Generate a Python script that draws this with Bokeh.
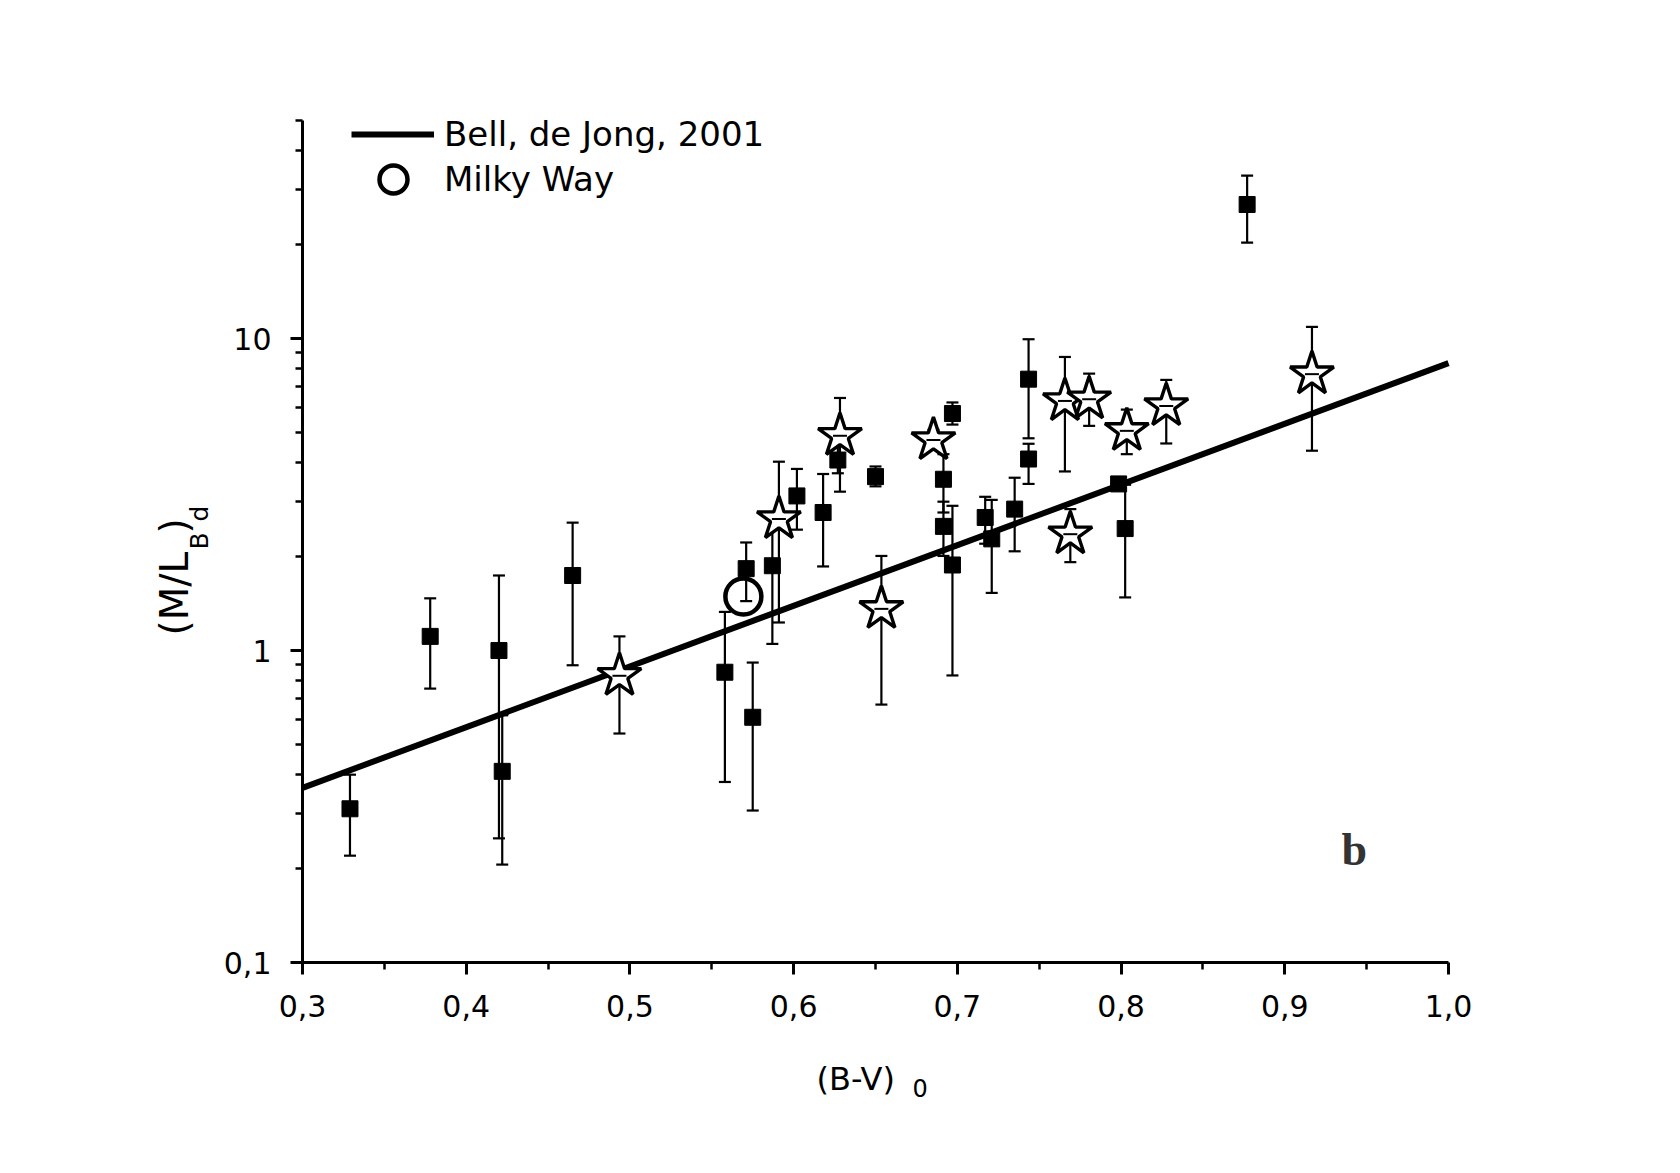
import math
from bokeh.plotting import figure
from bokeh.models import (ColumnDataSource, Whisker, TeeHead, FixedTicker, Label, Grid,
                          Legend, LegendItem, CustomJSTickFormatter, LinearAxis, LogAxis)
from bokeh.embed import file_html
from bokeh.resources import INLINE

# ---------------- data ----------------
x_ticks = [0.3, 0.4, 0.5, 0.6, 0.7, 0.8, 0.9, 1.0]
x_tick_labels = ["0,3", "0,4", "0,5", "0,6", "0,7", "0,8", "0,9", "1,0"]
x_minor = [0.35, 0.45, 0.55, 0.65, 0.75, 0.85, 0.95]
y_ticks = [0.1, 1, 10]
y_tick_labels = ["0,1", "1", "10"]
y_minor = [0.2, 0.3, 0.4, 0.5, 0.6, 0.7, 0.8, 0.9,
           2, 3, 4, 5, 6, 7, 8, 9, 20, 30, 40, 50]

# filled squares
sq_x = [0.329, 0.378, 0.420, 0.422, 0.465, 0.558, 0.571, 0.575, 0.587, 0.602,
        0.618, 0.627, 0.650, 0.6915, 0.6915, 0.697, 0.697, 0.717, 0.721, 0.735,
        0.7435, 0.7435, 0.7985, 0.8025, 0.877]
sq_y = [0.311, 1.11, 1.00, 0.41, 1.74, 0.852, 1.83, 0.611, 1.87, 3.13,
        2.77, 4.08, 3.61, 3.54, 2.50, 5.75, 1.88, 2.67, 2.28, 2.84,
        7.41, 4.11, 3.42, 2.46, 26.9]
sq_lo = [0.22, 0.755, 0.25, 0.206, 0.897, 0.379, 1.44, 0.307, 1.05, 2.44,
         1.86, 3.70, 3.36, 2.77, 2.01, 5.30, 0.832, 2.20, 1.53, 2.08,
         4.79, 3.42, 3.30, 1.48, 20.3]
sq_hi = [0.40, 1.47, 1.74, 0.62, 2.57, 1.33, 2.22, 0.915, 2.69, 3.82,
         3.68, 4.60, 3.89, 4.26, 3.00, 6.24, 2.91, 3.11, 3.04, 3.58,
         9.95, 4.60, 3.55, 3.40, 33.3]

# open stars
st_x = [0.4936, 0.591, 0.6283, 0.6536, 0.6854, 0.7657, 0.769, 0.7805, 0.8035, 0.8276, 0.9166]
st_y = [0.83, 2.64, 4.88, 1.36, 4.73, 6.31, 2.36, 6.39, 5.06, 6.08, 7.69]
st_lo = [0.542, 1.23, 3.23, 0.671, 4.40, 3.75, 1.92, 5.25, 4.26, 4.61, 4.37]
st_hi = [1.11, 4.03, 6.45, 2.01, 5.10, 8.73, 2.84, 7.72, 5.92, 7.37, 10.9]

# Milky Way
mw_x = [0.5693]
mw_y = [1.49]

# Bell & de Jong 2001 relation
bell_x = [0.3, 1.0]
bell_y = [0.363, 8.34]

X0, X1 = 0.3, 1.0      # axis extent
Y0, Y1 = 0.1, 50

# ---------------- layout (page pixels) ----------------
# where the axes sit on the page
AL, AR, AT, AB = 302, 1448, 120, 962
# the (larger) plotting frame, so that axis titles can live inside it
FL, FR, FT, FB = 110, 1600, 30, 1104

KX = (X1 - X0) / (AR - AL)
KY = (math.log10(Y1) - math.log10(Y0)) / (AB - AT)


def dx(px):
    return X0 + (px - AL) * KX


def dy(py):
    return 10 ** (math.log10(Y0) + (AB - py) * KY)


FONT = "DejaVu Sans"

p = figure(x_range=(dx(FL), dx(FR)), y_range=(dy(FB), dy(FT)), y_axis_type="log",
           x_axis_location=None, y_axis_location=None,
           frame_width=FR - FL, frame_height=FB - FT,
           min_border_left=FL, min_border_top=FT,
           min_border_right=40, min_border_bottom=0,
           output_backend="svg", toolbar_location=None)
p.outline_line_color = None
p.background_fill_color = "white"
p.border_fill_color = "white"
for g in p.select(type=Grid):
    g.visible = False

fmt_code = """
let best = 0, d = Infinity;
for (let i = 0; i < tv.length; i++) {
  const e = Math.abs(tv[i] - tick);
  if (e < d) { d = e; best = i; }
}
return lb[best];
"""
xaxis = LinearAxis(fixed_location=Y0, bounds=(X0, X1),
                   ticker=FixedTicker(ticks=x_ticks, minor_ticks=x_minor),
                   formatter=CustomJSTickFormatter(args=dict(tv=x_ticks, lb=x_tick_labels),
                                                   code=fmt_code))
yaxis = LogAxis(fixed_location=X0, bounds=(Y0, Y1),
                ticker=FixedTicker(ticks=y_ticks, minor_ticks=y_minor),
                formatter=CustomJSTickFormatter(args=dict(tv=y_ticks, lb=y_tick_labels),
                                                code=fmt_code))

for ax in (xaxis, yaxis):
    ax.axis_line_width = 3
    ax.axis_line_color = "black"
    ax.major_tick_line_width = 3
    ax.minor_tick_line_width = 2.5
    ax.major_tick_line_color = "black"
    ax.minor_tick_line_color = "black"
    ax.major_tick_in = 0
    ax.minor_tick_in = 0
    ax.major_tick_out = 12
    ax.minor_tick_out = 7
    ax.major_label_text_font = FONT
    ax.major_label_text_font_size = "30px"
    ax.major_label_text_color = "black"
    ax.axis_label = None
xaxis.major_label_standoff = 20
yaxis.major_label_standoff = 19
p.add_layout(xaxis, "below")
p.add_layout(yaxis, "left")

# ---------------- marks ----------------
bell = p.line(bell_x, bell_y, line_width=6, line_color="black")

sq_src = ColumnDataSource(dict(x=sq_x, y=sq_y, lo=sq_lo, hi=sq_hi))
st_src = ColumnDataSource(dict(x=st_x, y=st_y, lo=st_lo, hi=st_hi))

p.scatter("x", "y", source=sq_src, marker="square", size=16,
          fill_color="black", line_color="black")
p.scatter("x", "y", source=st_src, marker="star", size=46,
          fill_color="white", line_color="black", line_width=3.4)
p.scatter("x", "y", source=st_src, marker="dash", size=14,
          line_color="black", line_width=2)
mw = p.scatter(mw_x, mw_y, marker="circle", size=36, fill_color=None,
               line_color="black", line_width=4.5)

for src in (sq_src, st_src):
    w = Whisker(source=src, base="x", upper="hi", lower="lo", dimension="height",
                line_width=2.2, line_color="black",
                upper_head=TeeHead(size=12, line_width=2.2, line_color="black"),
                lower_head=TeeHead(size=12, line_width=2.2, line_color="black"))
    p.add_layout(w)

# ---------------- legend ----------------
leg1 = Legend(items=[LegendItem(label="Bell, de Jong, 2001", renderers=[bell])],
              location=(351 - FL, FB - 154), glyph_width=83, glyph_height=40,
              label_standoff=10, label_text_font=FONT, label_text_font_size="34px",
              label_text_color="black",
              padding=0, margin=0, border_line_color=None, background_fill_alpha=0)
leg2 = Legend(items=[LegendItem(label="Milky Way", renderers=[mw])],
              location=(358 - FL, FB - 214), glyph_width=70, glyph_height=70,
              label_standoff=16, label_text_font=FONT, label_text_font_size="34px",
              label_text_color="black",
              padding=0, margin=0, border_line_color=None, background_fill_alpha=0)
p.add_layout(leg1)
p.add_layout(leg2)


# ---------------- axis titles ----------------
def lab(px, py, text, size, angle=0.0, font=FONT, style="normal", color="black"):
    # (px, py): start of the text baseline on the page; small correction of the
    # renderer's baseline offset
    c = 0.37 * size
    if angle == 0.0:
        py = py - c
    else:
        px = px - c
    p.add_layout(Label(x=dx(px), y=dy(py), text=text, angle=angle, text_font=font,
                       text_font_style=style, text_font_size=f"{size}px", text_align="left",
                       text_baseline="alphabetic", text_color=color))


lab(816, 1090, "(B-V)", 32)
lab(912, 1096, "0", 24)

rot = math.pi / 2
lab(188, 635, "(M/L", 39, rot)
lab(208, 549, "B", 25, rot)
lab(188, 533, ")", 39, rot)
lab(208, 521, "d", 25, rot)

# panel letter
lab(1341, 866, "b", 46, font="Liberation Serif", style="bold", color="#333333")

open("out.html", "w").write(file_html(p, INLINE))
